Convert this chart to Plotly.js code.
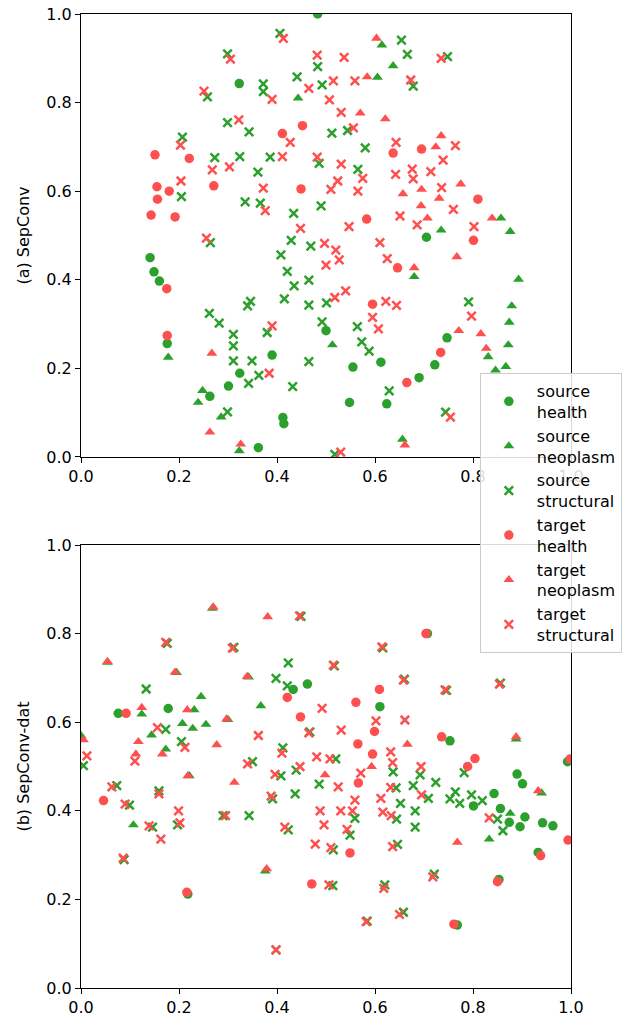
<!DOCTYPE html>
<html>
<head>
<meta charset="utf-8">
<script src="https://cdn.plot.ly/plotly-3.0.1.min.js"></script>
<style>html,body{margin:0;padding:0;background:#fff;}#chart{width:636px;height:1017px;}</style>
</head>
<body>
<div id="chart"></div>
<script>
// ---- labels ----
const seriesNames = ["source<br>health", "source<br>neoplasm", "source<br>structural",
                     "target<br>health", "target<br>neoplasm", "target<br>structural"];
const panelTitles = ["(a) SepConv", "(b) SepConv-dat"];
const tickVals = [0, 0.2, 0.4, 0.6, 0.8, 1.0];

// ---- panel (a): SepConv, [x, y] points ----
const aSrcHealth = [[0.483,1.0],[0.323,0.843],[0.141,0.45],[0.149,0.418],[0.16,0.397],[0.176,0.256],[0.39,0.23],[0.5,0.285],[0.324,0.189],[0.301,0.16],[0.263,0.137],[0.412,0.089],[0.414,0.075],[0.362,0.021],[0.705,0.496],[0.555,0.203],[0.612,0.214],[0.747,0.269],[0.722,0.208],[0.69,0.179],[0.624,0.12],[0.548,0.123]];
const aSrcNeoplasm = [[0.443,0.81],[0.614,0.93],[0.637,0.883],[0.605,0.857],[0.857,0.539],[0.735,0.512],[0.876,0.509],[0.68,0.407],[0.893,0.401],[0.879,0.341],[0.178,0.225],[0.248,0.15],[0.239,0.123],[0.286,0.09],[0.323,0.014],[0.513,0.253],[0.831,0.226],[0.872,0.253],[0.874,0.304],[0.867,0.204],[0.846,0.196],[0.656,0.04]];
const aSrcStructural = [[0.406,0.956],[0.299,0.91],[0.483,0.881],[0.372,0.842],[0.372,0.825],[0.441,0.858],[0.492,0.84],[0.258,0.813],[0.299,0.755],[0.343,0.734],[0.207,0.722],[0.273,0.676],[0.324,0.678],[0.386,0.677],[0.486,0.663],[0.361,0.643],[0.205,0.588],[0.335,0.576],[0.366,0.573],[0.434,0.55],[0.49,0.567],[0.264,0.484],[0.429,0.489],[0.469,0.476],[0.408,0.456],[0.421,0.419],[0.435,0.386],[0.465,0.399],[0.346,0.351],[0.34,0.341],[0.415,0.357],[0.465,0.343],[0.501,0.348],[0.262,0.324],[0.282,0.302],[0.311,0.277],[0.311,0.251],[0.311,0.217],[0.349,0.217],[0.38,0.281],[0.492,0.305],[0.465,0.215],[0.363,0.184],[0.342,0.166],[0.432,0.159],[0.299,0.102],[0.654,0.941],[0.666,0.909],[0.748,0.904],[0.678,0.837],[0.512,0.731],[0.544,0.737],[0.58,0.698],[0.565,0.649],[0.791,0.35],[0.564,0.294],[0.573,0.26],[0.588,0.239],[0.629,0.149],[0.744,0.101],[0.518,0.006]];
const aTgtHealth = [[0.411,0.73],[0.452,0.748],[0.151,0.682],[0.221,0.674],[0.155,0.61],[0.18,0.60],[0.271,0.612],[0.156,0.582],[0.449,0.605],[0.143,0.546],[0.192,0.542],[0.175,0.38],[0.176,0.274],[0.637,0.686],[0.695,0.695],[0.81,0.582],[0.583,0.537],[0.801,0.489],[0.646,0.427],[0.595,0.345],[0.734,0.236],[0.665,0.168]];
const aTgtNeoplasm = [[0.603,0.945],[0.584,0.858],[0.57,0.776],[0.621,0.763],[0.735,0.725],[0.724,0.70],[0.657,0.594],[0.695,0.604],[0.775,0.616],[0.731,0.584],[0.694,0.567],[0.707,0.539],[0.839,0.539],[0.767,0.452],[0.68,0.427],[0.267,0.234],[0.263,0.056],[0.326,0.029],[0.771,0.285],[0.816,0.278],[0.827,0.245],[0.661,0.027]];
const aTgtStructural = [[0.413,0.945],[0.305,0.898],[0.482,0.907],[0.465,0.832],[0.251,0.826],[0.39,0.807],[0.322,0.761],[0.427,0.71],[0.203,0.704],[0.411,0.678],[0.482,0.677],[0.268,0.648],[0.303,0.655],[0.204,0.623],[0.372,0.607],[0.376,0.556],[0.448,0.516],[0.256,0.494],[0.497,0.482],[0.5,0.433],[0.537,0.902],[0.735,0.90],[0.515,0.849],[0.559,0.849],[0.673,0.851],[0.507,0.806],[0.531,0.778],[0.556,0.743],[0.643,0.71],[0.764,0.703],[0.739,0.67],[0.531,0.661],[0.575,0.629],[0.524,0.623],[0.51,0.604],[0.565,0.60],[0.642,0.638],[0.676,0.65],[0.678,0.628],[0.714,0.644],[0.736,0.608],[0.76,0.559],[0.651,0.544],[0.547,0.52],[0.686,0.524],[0.802,0.52],[0.52,0.467],[0.527,0.445],[0.61,0.484],[0.625,0.448],[0.54,0.375],[0.518,0.36],[0.622,0.351],[0.644,0.342],[0.39,0.296],[0.384,0.189],[0.797,0.318],[0.595,0.315],[0.607,0.289],[0.754,0.09],[0.53,0.011]];

// ---- panel (b): SepConv-dat, [x, y] points ----
const bSrcHealth = [[0.433,0.674],[0.462,0.686],[0.707,0.80],[0.076,0.62],[0.178,0.631],[0.61,0.635],[0.753,0.558],[0.993,0.511],[0.89,0.483],[0.901,0.461],[0.843,0.439],[0.801,0.411],[0.856,0.405],[0.874,0.374],[0.906,0.386],[0.896,0.364],[0.942,0.373],[0.963,0.366],[0.218,0.212],[0.933,0.306],[0.853,0.245],[0.768,0.142]];
const bSrcNeoplasm = [[0.268,0.857],[0.054,0.735],[0.195,0.712],[0.342,0.702],[0.245,0.658],[0.367,0.637],[0.124,0.618],[0.231,0.628],[0.3,0.606],[0.207,0.597],[0.228,0.586],[0.255,0.595],[0.144,0.571],[0.0,0.57],[0.173,0.539],[0.221,0.479],[0.107,0.368],[0.376,0.264],[0.888,0.562],[0.94,0.44],[0.876,0.394],[0.833,0.336]];
const bSrcStructural = [[0.176,0.778],[0.312,0.769],[0.449,0.839],[0.423,0.734],[0.398,0.699],[0.133,0.675],[0.421,0.682],[0.616,0.768],[0.517,0.727],[0.66,0.697],[0.856,0.688],[0.746,0.672],[0.173,0.584],[0.467,0.578],[0.205,0.556],[0.412,0.542],[0.005,0.502],[0.35,0.511],[0.439,0.492],[0.408,0.479],[0.073,0.457],[0.159,0.445],[0.486,0.46],[0.437,0.438],[0.391,0.427],[0.099,0.413],[0.29,0.389],[0.343,0.389],[0.146,0.363],[0.197,0.368],[0.423,0.357],[0.088,0.29],[0.398,0.086],[0.52,0.517],[0.637,0.488],[0.692,0.481],[0.782,0.486],[0.724,0.464],[0.643,0.452],[0.678,0.457],[0.709,0.428],[0.764,0.443],[0.753,0.427],[0.773,0.417],[0.797,0.436],[0.819,0.423],[0.652,0.417],[0.682,0.40],[0.559,0.383],[0.644,0.381],[0.85,0.381],[0.861,0.355],[0.549,0.345],[0.682,0.363],[0.515,0.312],[0.646,0.324],[0.514,0.231],[0.62,0.233],[0.721,0.257],[0.584,0.151],[0.658,0.171]];
const bTgtHealth = [[0.704,0.80],[0.609,0.674],[0.421,0.656],[0.092,0.62],[0.448,0.612],[0.046,0.423],[0.561,0.645],[0.599,0.579],[0.736,0.567],[0.565,0.551],[0.595,0.528],[0.804,0.518],[0.789,0.50],[0.566,0.463],[0.998,0.517],[0.994,0.334],[0.216,0.216],[0.471,0.235],[0.549,0.305],[0.938,0.299],[0.85,0.24],[0.761,0.144]];
const bTgtNeoplasm = [[0.27,0.86],[0.381,0.838],[0.054,0.737],[0.192,0.713],[0.339,0.703],[0.124,0.633],[0.217,0.628],[0.297,0.607],[0.005,0.56],[0.117,0.556],[0.277,0.549],[0.166,0.528],[0.112,0.528],[0.218,0.479],[0.313,0.464],[0.498,0.481],[0.379,0.269],[0.666,0.55],[0.888,0.567],[0.593,0.50],[0.933,0.445],[0.768,0.329]];
const bTgtStructural = [[0.173,0.78],[0.309,0.767],[0.446,0.84],[0.614,0.77],[0.515,0.729],[0.658,0.695],[0.854,0.686],[0.743,0.673],[0.156,0.588],[0.362,0.57],[0.465,0.576],[0.212,0.543],[0.41,0.53],[0.11,0.512],[0.012,0.524],[0.481,0.522],[0.34,0.506],[0.447,0.50],[0.396,0.482],[0.063,0.454],[0.159,0.438],[0.388,0.433],[0.09,0.415],[0.199,0.40],[0.488,0.40],[0.295,0.389],[0.139,0.366],[0.202,0.373],[0.416,0.363],[0.163,0.336],[0.496,0.368],[0.492,0.631],[0.602,0.603],[0.661,0.605],[0.531,0.582],[0.632,0.533],[0.636,0.509],[0.508,0.517],[0.694,0.50],[0.571,0.485],[0.525,0.454],[0.632,0.453],[0.695,0.436],[0.612,0.428],[0.559,0.424],[0.53,0.40],[0.554,0.40],[0.616,0.397],[0.633,0.389],[0.833,0.384],[0.543,0.358],[0.086,0.293],[0.478,0.325],[0.398,0.086],[0.51,0.317],[0.636,0.319],[0.506,0.233],[0.618,0.225],[0.718,0.251],[0.582,0.15],[0.65,0.166]];

// ---- styling ----
const GREEN = "#2ca02c", RED = "#ff5050";
const styles = [
  {color: GREEN, symbol: "circle", size: 9.5},
  {color: GREEN, symbol: "triangle-up", size: 9.5},
  {color: GREEN, symbol: "x-thin", size: 8.5},
  {color: RED, symbol: "circle", size: 9.5},
  {color: RED, symbol: "triangle-up", size: 9.5},
  {color: RED, symbol: "x-thin", size: 8.5}
];

function makeTrace(points, idx, xa, ya, showLegend) {
  const st = styles[idx];
  const isX = st.symbol === "x-thin";
  return {
    type: "scatter", mode: "markers",
    x: points.map(p => p[0]), y: points.map(p => p[1]),
    xaxis: xa, yaxis: ya,
    name: seriesNames[idx], legendgroup: "g" + idx, showlegend: showLegend,
    marker: {
      color: st.color, symbol: st.symbol, size: st.size,
      line: isX ? {color: st.color, width: 2.5} : {width: 0}
    },
    hoverinfo: "x+y+name"
  };
}

const panelA = [aSrcHealth, aSrcNeoplasm, aSrcStructural, aTgtHealth, aTgtNeoplasm, aTgtStructural];
const panelB = [bSrcHealth, bSrcNeoplasm, bSrcStructural, bTgtHealth, bTgtNeoplasm, bTgtStructural];
const data = [];
panelA.forEach((pts, i) => data.push(makeTrace(pts, i, "x", "y", true)));
panelB.forEach((pts, i) => data.push(makeTrace(pts, i, "x2", "y2", false)));

const FONT = "DejaVu Sans, sans-serif";
function axis(extra) {
  return Object.assign({
    range: [0, 1], tickvals: tickVals, tickformat: ".1f",
    ticks: "outside", ticklen: 5, tickwidth: 1, tickcolor: "#000",
    showline: true, linecolor: "#000", linewidth: 1, mirror: true,
    showgrid: false, zeroline: false, fixedrange: true,
    tickfont: {family: FONT, size: 16, color: "#000"}
  }, extra);
}

const layout = {
  width: 636, height: 1017,
  margin: {l: 81, r: 65, t: 14, b: 29, autoexpand: false},
  paper_bgcolor: "#fff", plot_bgcolor: "#fff",
  font: {family: FONT, color: "#000"},
  xaxis: axis({domain: [0, 1], anchor: "y"}),
  yaxis: axis({domain: [0.5452, 1], anchor: "x",
    title: {text: panelTitles[0], font: {family: FONT, size: 16, color: "#000"}, standoff: 12}}),
  xaxis2: axis({domain: [0, 1], anchor: "y2"}),
  yaxis2: axis({domain: [0, 0.4548], anchor: "x2",
    title: {text: panelTitles[1], font: {family: FONT, size: 16, color: "#000"}, standoff: 12}}),
  showlegend: true,
  legend: {
    x: 0.814, y: 0.6314, xanchor: "left", yanchor: "top",
    bgcolor: "rgba(255,255,255,0.85)", bordercolor: "#cccccc", borderwidth: 1,
    font: {family: FONT, size: 16, color: "#000"},
    itemwidth: 46, tracegroupgap: 0
  }
};

Plotly.newPlot("chart", data, layout, {displayModeBar: false, staticPlot: true});
</script>
</body>
</html>
